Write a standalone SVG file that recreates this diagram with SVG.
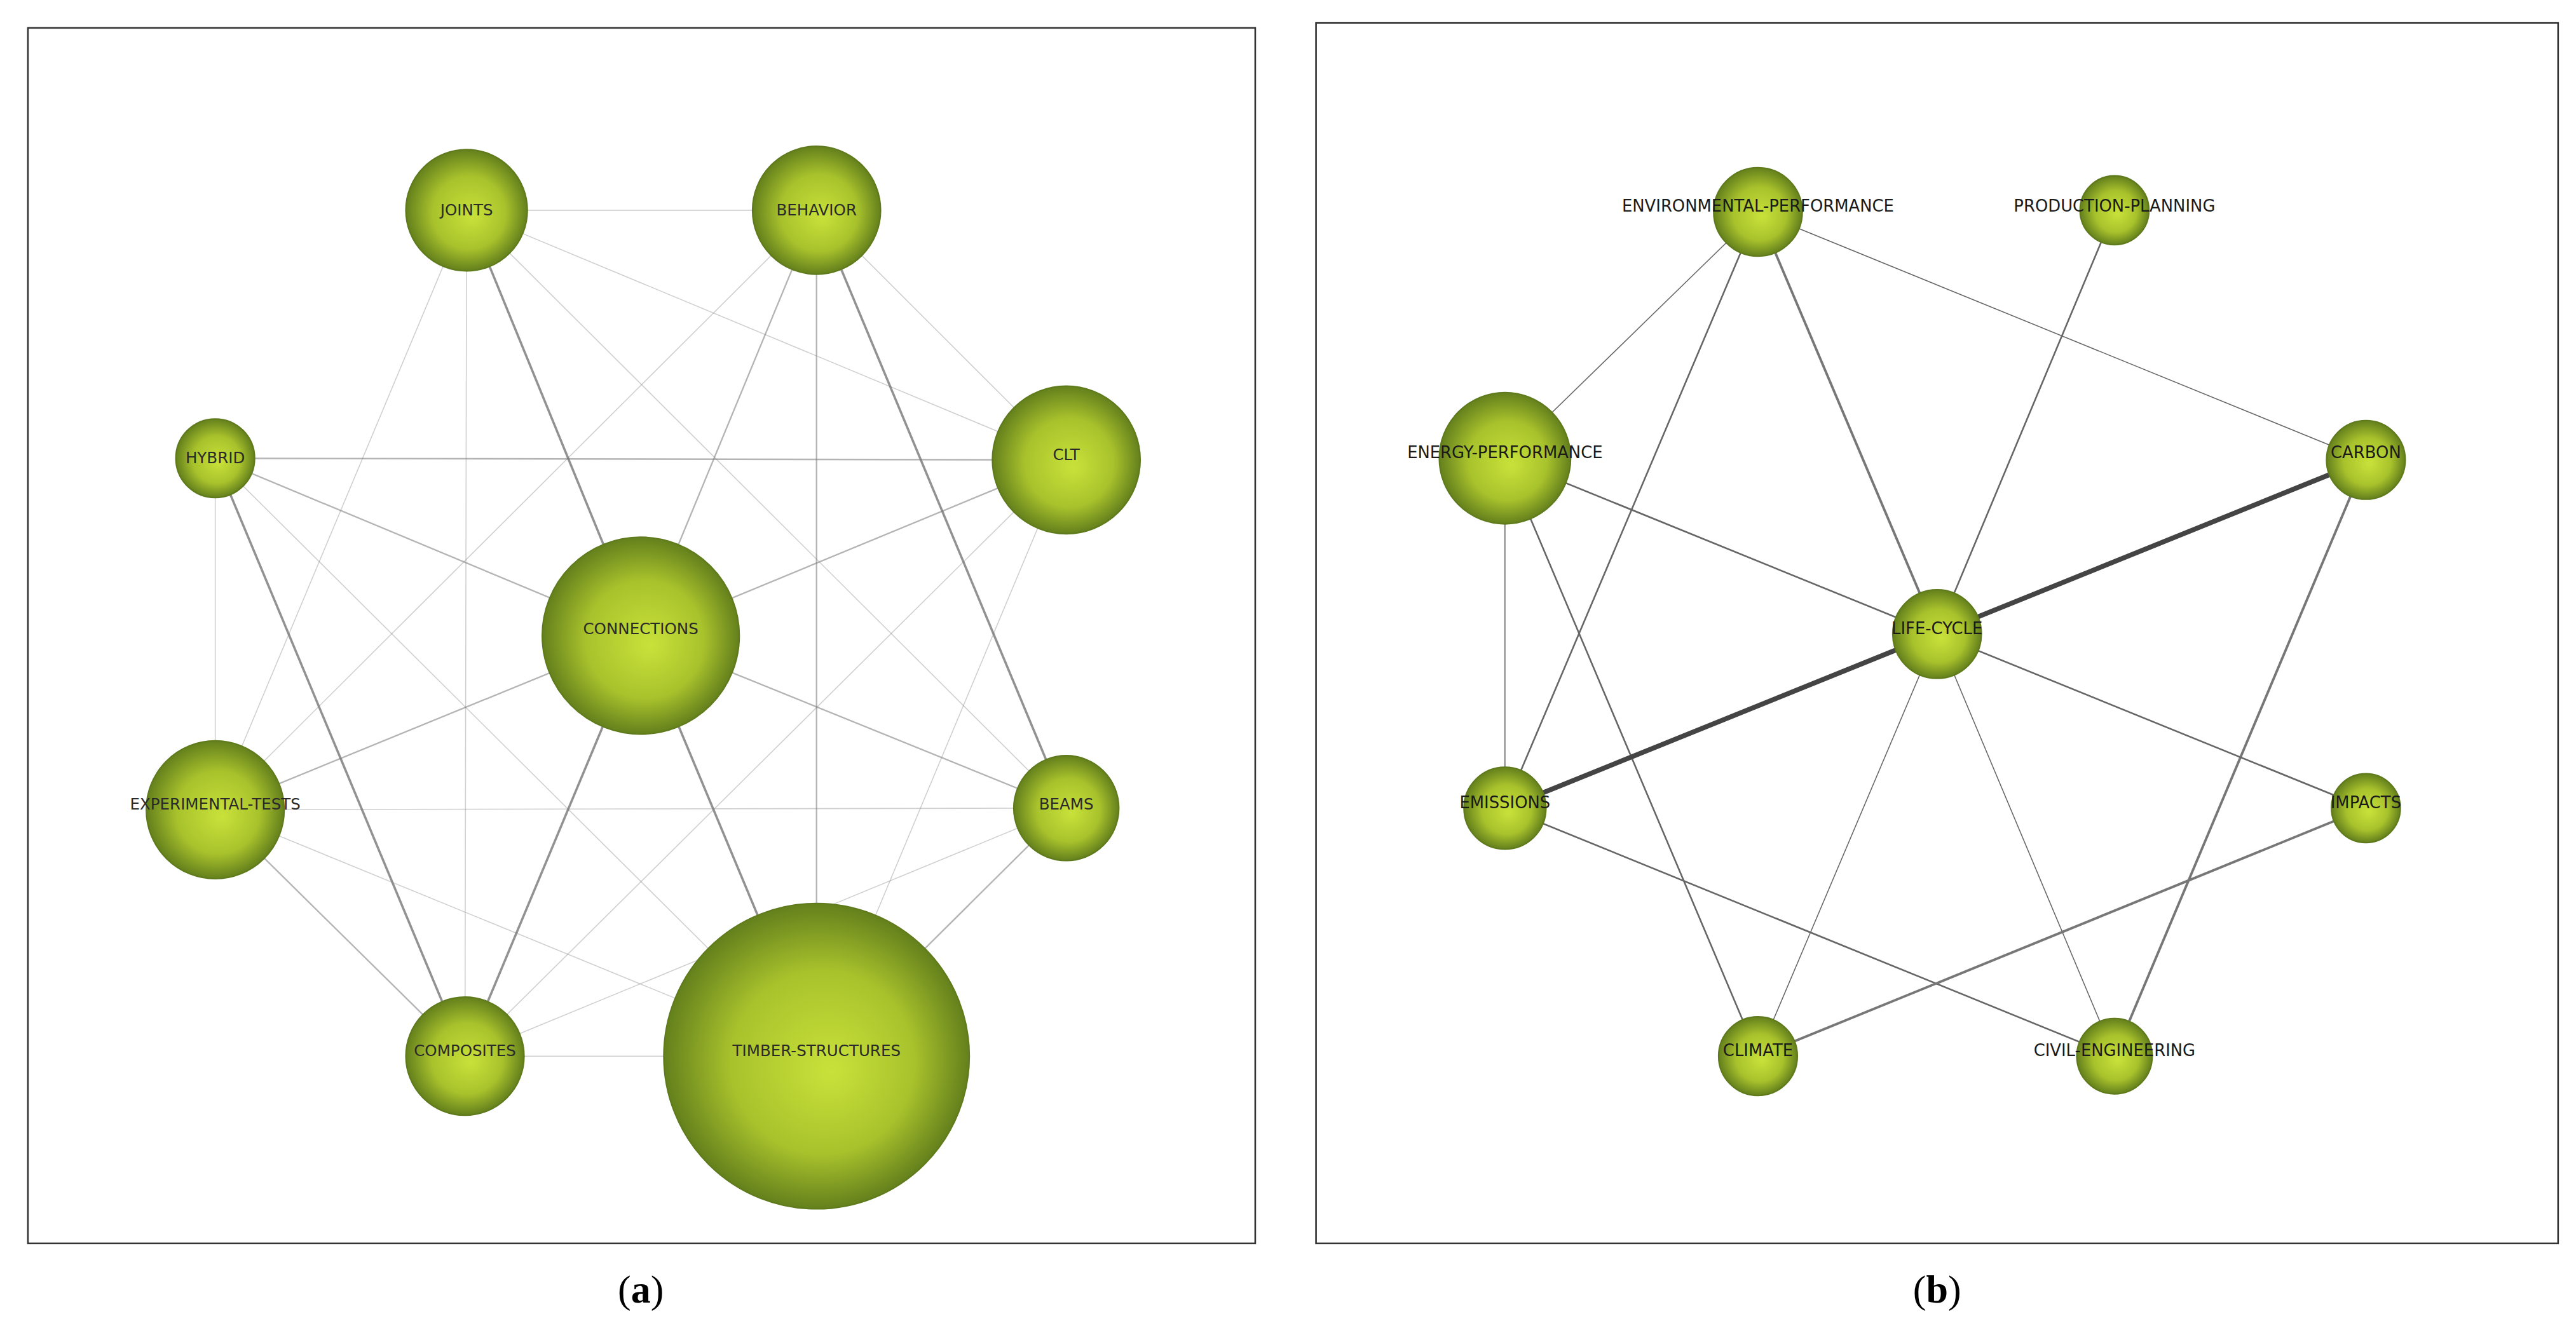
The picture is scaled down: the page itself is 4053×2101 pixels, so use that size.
<svg xmlns="http://www.w3.org/2000/svg" width="4053" height="2101" viewBox="0 0 4053 2101">
<defs>
<radialGradient id="g" cx="0.5" cy="0.5" r="0.5" fx="0.55" fy="0.55">
<stop offset="0" stop-color="#c9e23a"/><stop offset="0.6" stop-color="#a8c22c"/><stop offset="1" stop-color="#64801c"/>
</radialGradient>
<style>
.n{fill:url(#g);stroke:#5e7a1c;stroke-width:0.8}
.t{font-family:"DejaVu Sans",sans-serif;font-size:9.5px;fill:#2a2a2a;text-anchor:middle}
.tb{font-family:"DejaVu Sans",sans-serif;font-size:10px;fill:#1a1a1a;text-anchor:middle}
.cap{font-family:"Liberation Serif",serif;font-size:24px;fill:#000;text-anchor:middle}
.frame{fill:none;stroke:#333;stroke-width:1}
line{stroke:#777}
.l1{stroke-width:0.6;opacity:0.35}
.l2{stroke-width:0.9;opacity:0.55}
.l3{stroke-width:1.4;opacity:0.8}
.b1{stroke:#666;stroke-width:0.6}
.b2{stroke:#666;stroke-width:1}
.b3{stroke:#777;stroke-width:1.5}
.b4{stroke:#444;stroke-width:3}
</style>
</defs>
<rect width="4053" height="2101" fill="#fff"/>
<g transform="scale(2.585)">
<rect class="frame" x="17" y="17" width="747" height="740"/>
<rect class="frame" x="801" y="14" width="756" height="743"/>
<g id="connectors">
<line class="l1" x1="284" y1="128" x2="497" y2="128"/>
<line class="l1" x1="284" y1="128" x2="649" y2="280"/>
<line class="l3" x1="284" y1="128" x2="390" y2="387"/>
<line class="l1" x1="284" y1="128" x2="649" y2="492"/>
<line class="l1" x1="284" y1="128" x2="131" y2="493"/>
<line class="l1" x1="284" y1="128" x2="283" y2="643"/>
<line class="l1" x1="497" y1="128" x2="649" y2="280"/>
<line class="l2" x1="497" y1="128" x2="390" y2="387"/>
<line class="l3" x1="497" y1="128" x2="649" y2="492"/>
<line class="l2" x1="497" y1="128" x2="497" y2="643"/>
<line class="l1" x1="497" y1="128" x2="131" y2="493"/>
<line class="l2" x1="131" y1="279" x2="649" y2="280"/>
<line class="l2" x1="131" y1="279" x2="390" y2="387"/>
<line class="l3" x1="131" y1="279" x2="283" y2="643"/>
<line class="l1" x1="131" y1="279" x2="131" y2="493"/>
<line class="l1" x1="131" y1="279" x2="497" y2="643"/>
<line class="l2" x1="649" y1="280" x2="390" y2="387"/>
<line class="l1" x1="649" y1="280" x2="283" y2="643"/>
<line class="l1" x1="649" y1="280" x2="497" y2="643"/>
<line class="l2" x1="390" y1="387" x2="131" y2="493"/>
<line class="l2" x1="390" y1="387" x2="649" y2="492"/>
<line class="l3" x1="390" y1="387" x2="283" y2="643"/>
<line class="l3" x1="390" y1="387" x2="497" y2="643"/>
<line class="l1" x1="131" y1="493" x2="649" y2="492"/>
<line class="l2" x1="131" y1="493" x2="283" y2="643"/>
<line class="l1" x1="131" y1="493" x2="497" y2="643"/>
<line class="l1" x1="649" y1="492" x2="283" y2="643"/>
<line class="l2" x1="649" y1="492" x2="497" y2="643"/>
<line class="l1" x1="283" y1="643" x2="497" y2="643"/>

<line class="b1" x1="1070" y1="129" x2="916" y2="279"/>
<line class="b2" x1="1070" y1="129" x2="916" y2="492"/>
<line class="b3" x1="1070" y1="129" x2="1179" y2="386"/>
<line class="b1" x1="1070" y1="129" x2="1440" y2="280"/>
<line class="b2" x1="1287" y1="128" x2="1179" y2="386"/>
<line class="b2" x1="916" y1="279" x2="1179" y2="386"/>
<line class="b1" x1="916" y1="279" x2="916" y2="492"/>
<line class="b2" x1="916" y1="279" x2="1070" y2="643"/>
<line class="b4" x1="916" y1="492" x2="1440" y2="280"/>
<line class="b3" x1="1440" y1="280" x2="1287" y2="643"/>
<line class="b2" x1="1179" y1="386" x2="1440" y2="492"/>
<line class="b1" x1="1179" y1="386" x2="1070" y2="643"/>
<line class="b1" x1="1179" y1="386" x2="1287" y2="643"/>
<line class="b2" x1="916" y1="492" x2="1287" y2="643"/>
<line class="b3" x1="1440" y1="492" x2="1070" y2="643"/>
</g>
<g id="joints"><circle class="n" cx="284" cy="128" r="37"/><text class="t" x="284" y="131">JOINTS</text></g>
<g id="behavior"><circle class="n" cx="497" cy="128" r="39"/><text class="t" x="497" y="131">BEHAVIOR</text></g>
<g id="hybrid"><circle class="n" cx="131" cy="279" r="24"/><text class="t" x="131" y="282">HYBRID</text></g>
<g id="clt"><circle class="n" cx="649" cy="280" r="45"/><text class="t" x="649" y="280">CLT</text></g>
<g id="connections"><circle class="n" cx="390" cy="387" r="60"/><text class="t" x="390" y="386">CONNECTIONS</text></g>
<g id="experimental-tests"><circle class="n" cx="131" cy="493" r="42"/><text class="t" x="131" y="493">EXPERIMENTAL-TESTS</text></g>
<g id="beams"><circle class="n" cx="649" cy="492" r="32"/><text class="t" x="649" y="493">BEAMS</text></g>
<g id="composites"><circle class="n" cx="283" cy="643" r="36"/><text class="t" x="283" y="643">COMPOSITES</text></g>
<g id="timber-structures"><circle class="n" cx="497" cy="643" r="93"/><text class="t" x="497" y="643">TIMBER-STRUCTURES</text></g>

<g id="environmental-performance"><circle class="n" cx="1070" cy="129" r="27"/><text class="tb" x="1070" y="129">ENVIRONMENTAL-PERFORMANCE</text></g>
<g id="production-planning"><circle class="n" cx="1287" cy="128" r="21"/><text class="tb" x="1287" y="129">PRODUCTION-PLANNING</text></g>
<g id="energy-performance"><circle class="n" cx="916" cy="279" r="40"/><text class="tb" x="916" y="279">ENERGY-PERFORMANCE</text></g>
<g id="carbon"><circle class="n" cx="1440" cy="280" r="24"/><text class="tb" x="1440" y="279">CARBON</text></g>
<g id="life-cycle"><circle class="n" cx="1179" cy="386" r="27"/><text class="tb" x="1179" y="386">LIFE-CYCLE</text></g>
<g id="emissions"><circle class="n" cx="916" cy="492" r="25"/><text class="tb" x="916" y="492">EMISSIONS</text></g>
<g id="impacts"><circle class="n" cx="1440" cy="492" r="21"/><text class="tb" x="1440" y="492">IMPACTS</text></g>
<g id="climate"><circle class="n" cx="1070" cy="643" r="24"/><text class="tb" x="1070" y="643">CLIMATE</text></g>
<g id="civil-engineering"><circle class="n" cx="1287" cy="643" r="23"/><text class="tb" x="1287" y="643">CIVIL-ENGINEERING</text></g>

<text class="cap" x="390" y="793">(<tspan font-weight="bold">a</tspan>)</text>
<text class="cap" x="1179" y="793">(<tspan font-weight="bold">b</tspan>)</text>
</g>
</svg>
